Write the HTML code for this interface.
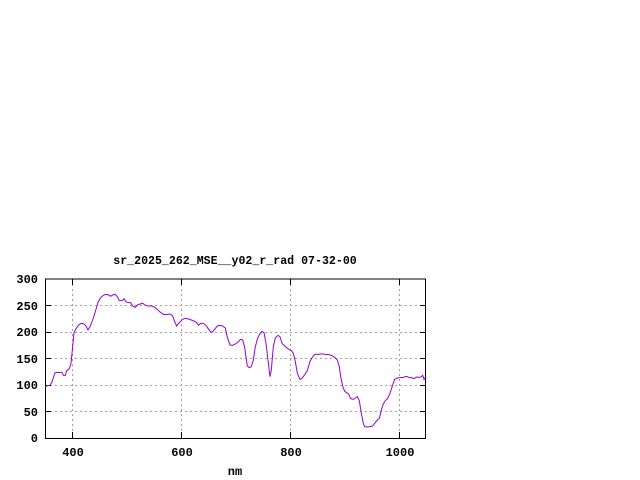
<!DOCTYPE html>
<html><head><style>body{margin:0;background:#fff}svg{display:block}text{font-family:"Liberation Mono",monospace;font-size:12px;font-weight:bold;fill:#000}</style></head><body>
<svg width="640" height="480" xmlns="http://www.w3.org/2000/svg">
<rect width="640" height="480" fill="#fff"/>
<g stroke="#a0a0a0" stroke-dasharray="2,3" stroke-width="1">
<line x1="45" y1="332.5" x2="426" y2="332.5"/><line x1="45" y1="385.5" x2="426" y2="385.5"/>
<line x1="45" y1="305.5" x2="426" y2="305.5"/><line x1="45" y1="358.5" x2="426" y2="358.5"/>
<line x1="45" y1="411.5" x2="426" y2="411.5"/>
<line x1="72.5" y1="279" x2="72.5" y2="438"/><line x1="181.5" y1="279" x2="181.5" y2="438"/>
<line x1="290.5" y1="279" x2="290.5" y2="438"/><line x1="399.5" y1="279" x2="399.5" y2="438"/>
</g>
<g stroke="#000" stroke-width="1">
<path d="M45,279H426" /><path d="M45,438.5H426"/>
<path d="M45.5,279V438M425.5,279V438"/>
<path d="M45,305.5h6M45,332.5h6M45,358.5h6M45,385.5h6M45,411.5h6M426,305.5h-6M426,332.5h-6M426,358.5h-6M426,385.5h-6M426,411.5h-6M72.5,438v-6M181.5,438v-6M290.5,438v-6M399.5,438v-6M72.5,279v6M181.5,279v6M290.5,279v6M399.5,279v6"/>
</g>
<g text-anchor="end">
<text x="38" y="283">300</text><text x="38" y="310">250</text><text x="38" y="336">200</text>
<text x="38" y="363">150</text><text x="38" y="389">100</text><text x="38" y="416">50</text><text x="38" y="442">0</text>
</g>
<g text-anchor="middle">
<text x="73" y="456">400</text><text x="182" y="456">600</text><text x="291" y="456">800</text><text x="400" y="456">1000</text>
<text x="235" y="475">nm</text>
<text x="235" y="264" style="font-size:11.6px">sr_2025_262_MSE__y02_r_rad 07-32-00</text>
</g>
<g transform="translate(0,250) scale(0.33333)">
<polyline fill="none" stroke="#9400d3" stroke-width="3" points="136,410 142,407 150,406 156,396 165,368 172,367 178,367 186,368 190,376 196,376 200,362 208,356 213,340 218,290 222,248 228,236 236,225 244,220 252,222 258,228 264,240 270,230 278,210 286,185 294,157 302,143 310,136 318,133 326,135 332,139 338,135 346,133 352,140 358,152 366,152 372,146 378,155 384,158 392,158 398,168 406,172 412,165 420,162 428,160 436,166 446,168 456,168 464,172 472,178 480,186 490,193 500,194 510,192 518,198 524,215 530,228 534,222 540,216 548,208 556,205 566,207 574,210 582,213 590,218 596,226 602,220 610,220 618,226 626,238 632,246 638,246 644,238 652,228 660,226 668,228 676,234 682,262 690,285 698,286 706,282 714,276 722,268 728,270 734,292 738,322 742,348 748,353 754,350 760,330 766,290 772,268 778,254 786,244 792,248 798,280 804,330 810,380 814,360 820,290 826,264 834,256 840,260 846,280 856,290 864,296 874,302 880,310 886,335 892,370 900,388 906,385 914,374 922,362 930,334 938,320 946,312 954,314 960,312 968,312 976,313 986,314 994,316 1004,322 1012,330 1018,350 1022,380 1028,408 1034,424 1040,428 1046,432 1052,446 1060,448 1066,444 1072,440 1078,452 1084,490 1090,520 1094,530 1102,531 1110,530 1118,528 1124,520 1132,510 1138,505 1144,480 1150,462 1156,452 1162,447 1170,430 1178,405 1184,388 1192,384 1200,383 1210,382 1220,379 1226,382 1234,383 1242,386 1250,381 1258,382 1264,380 1268,376 1272,388 1276,382 1279,384"/>
</g>
</svg>
</body></html>
